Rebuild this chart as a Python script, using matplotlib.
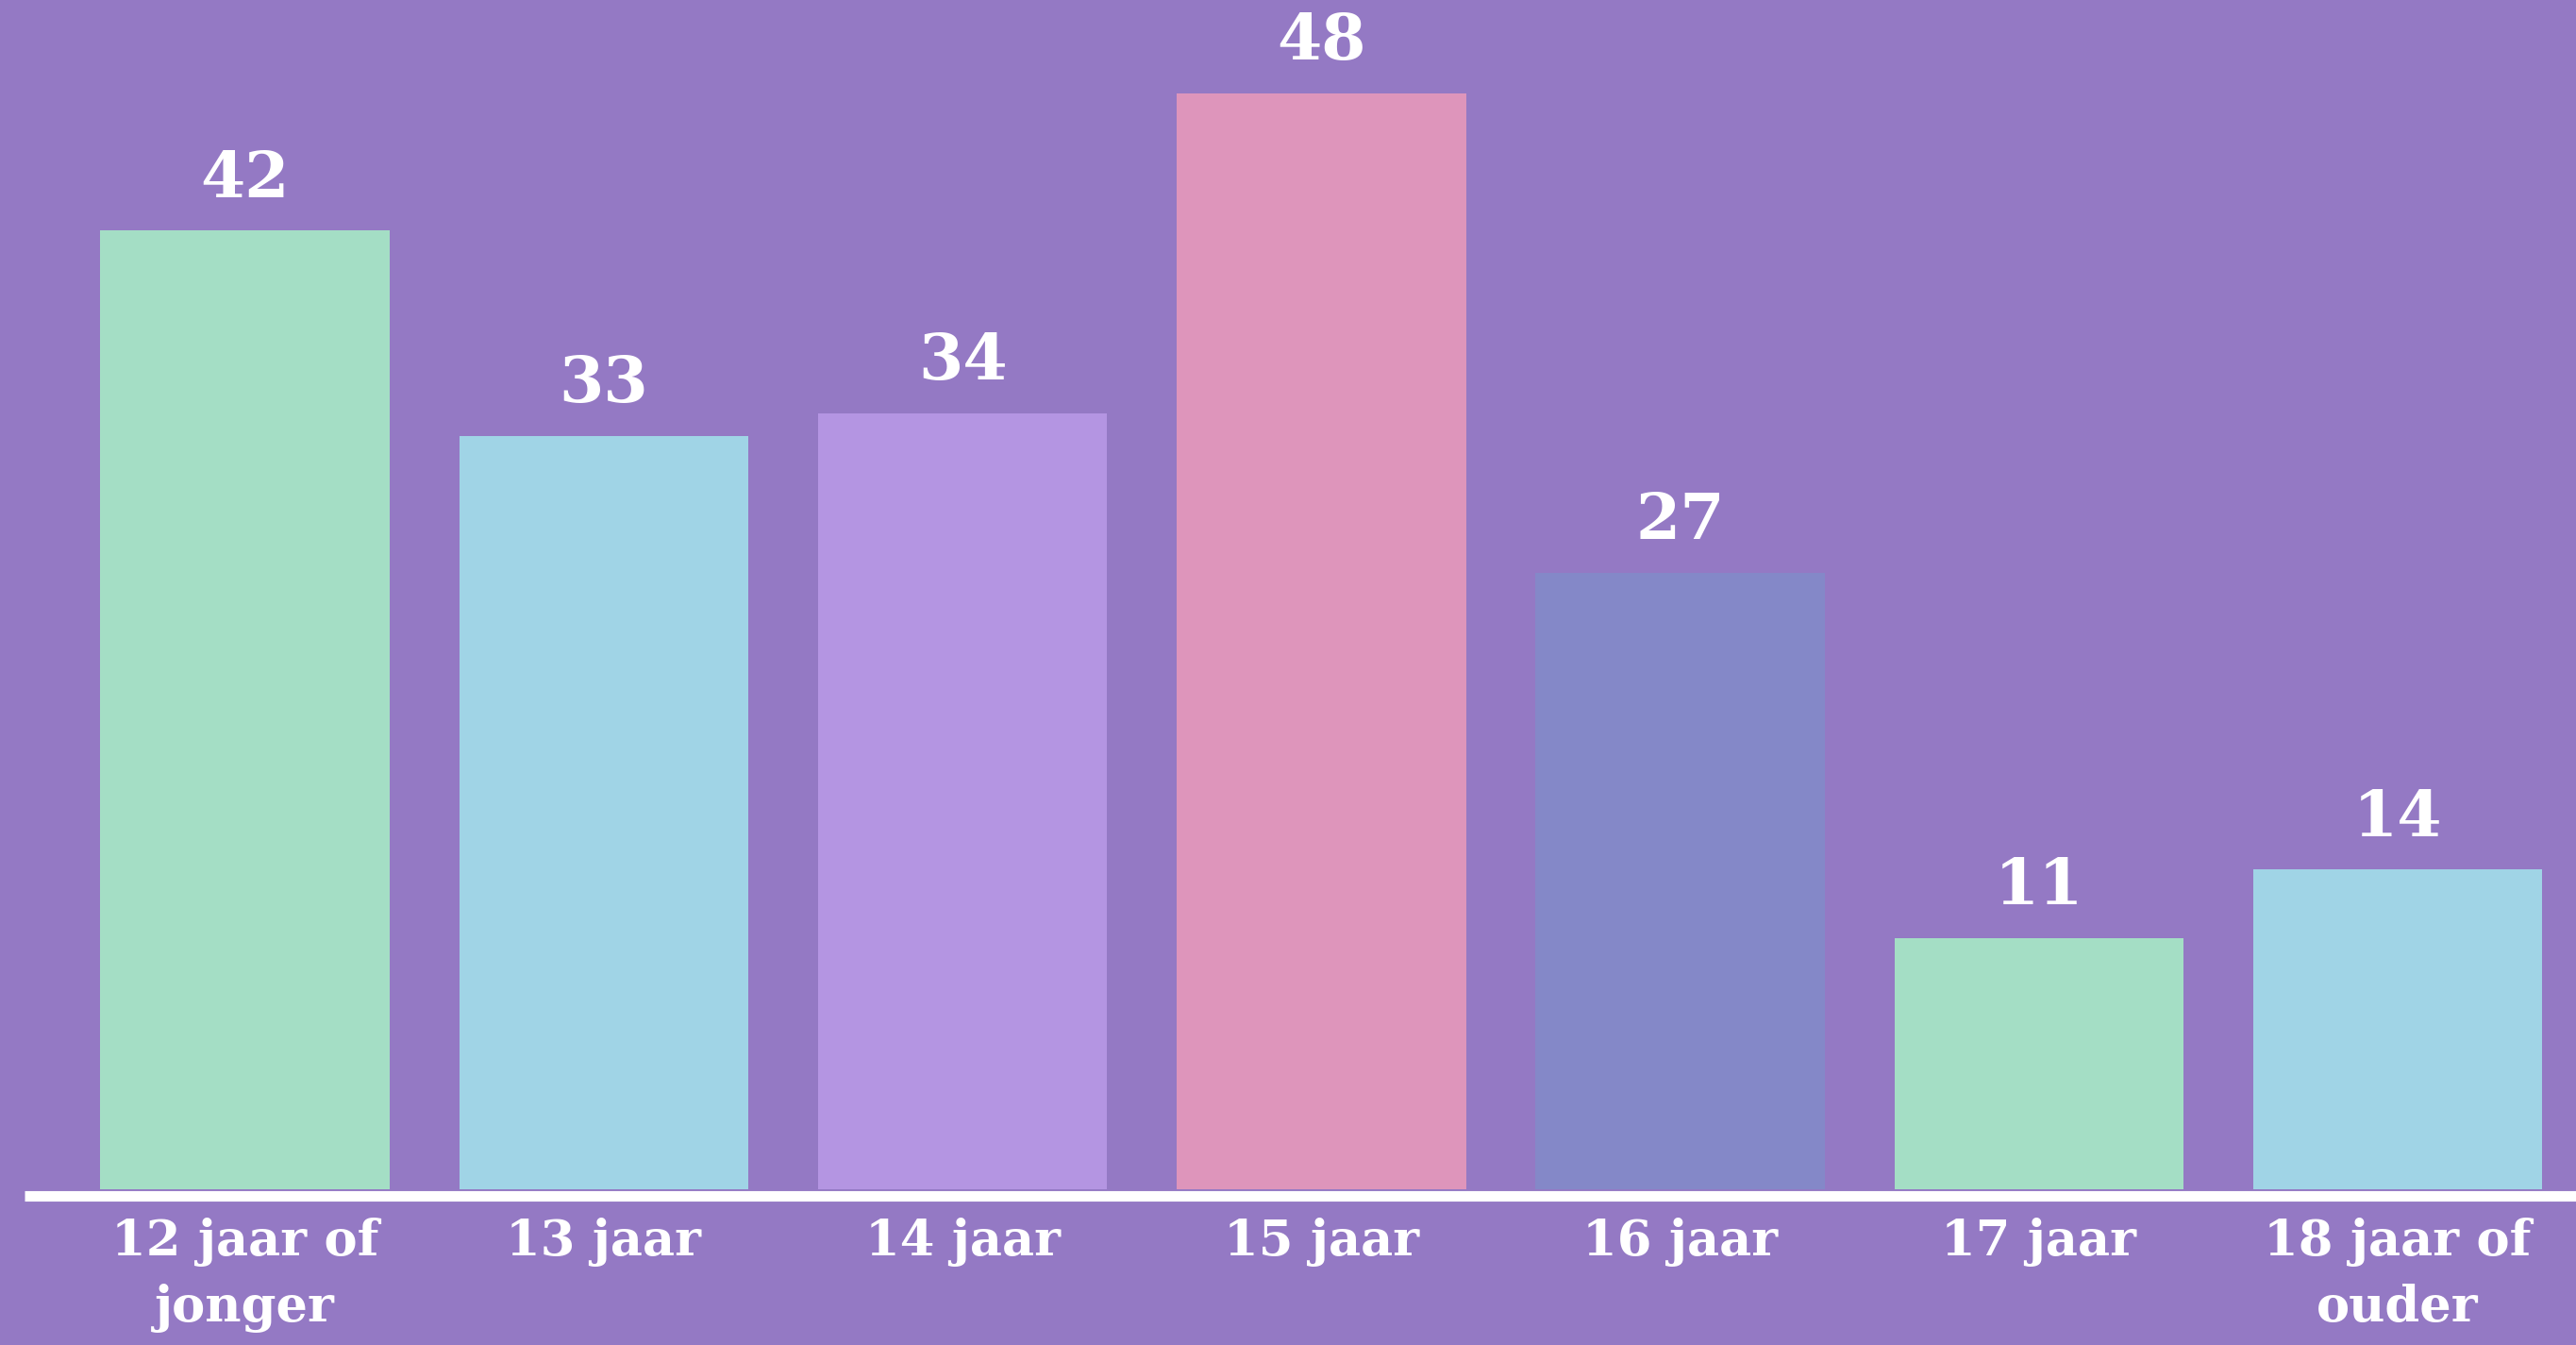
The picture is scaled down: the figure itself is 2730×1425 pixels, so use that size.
import matplotlib
matplotlib.use("Agg")
import matplotlib.pyplot as plt

categories = ["12 jaar of\njonger", "13 jaar", "14 jaar", "15 jaar", "16 jaar", "17 jaar", "18 jaar of\nouder"]
values = [42, 33, 34, 48, 27, 11, 14]
colors = ["#A4DEC5", "#A0D4E6", "#B495E2", "#DE95BB", "#8488C8", "#A4DEC5", "#A0D4E6"]
bg = "#9479C4"

fig = plt.figure(figsize=(27.3, 14.25), dpi=100, facecolor=bg)
ax = fig.add_axes([0.0095, 0.1158, 0.9905, 0.8842])
ax.set_facecolor(bg)

x = list(range(len(categories)))
bars = ax.bar(x, values, width=0.806, color=colors, zorder=2)
ax.set_xlim(-0.6146, 6.497)
ax.set_ylim(0, 52.09)

for xi, v in zip(x, values):
    ax.annotate(str(v), (xi, v), xytext=(0, 15.5), textcoords="offset points",
                ha="center", va="bottom", color="white", fontsize=49,
                fontweight="bold", family="DejaVu Serif")

for s in ["top", "left", "right"]:
    ax.spines[s].set_visible(False)
ax.spines["bottom"].set_color("white")
ax.spines["bottom"].set_linewidth(8)
ax.spines["bottom"].set_capstyle("butt")
ax.spines["bottom"].set_position(("outward", 5.4))
ax.set_yticks([])
ax.set_xticks(x)
ax.set_xticklabels(categories, color="white", fontsize=38, family="DejaVu Serif",
                   fontweight="semibold", linespacing=1.45)
ax.tick_params(axis="x", length=0, pad=16)

fig.savefig("out.png", dpi=100, facecolor=bg)
